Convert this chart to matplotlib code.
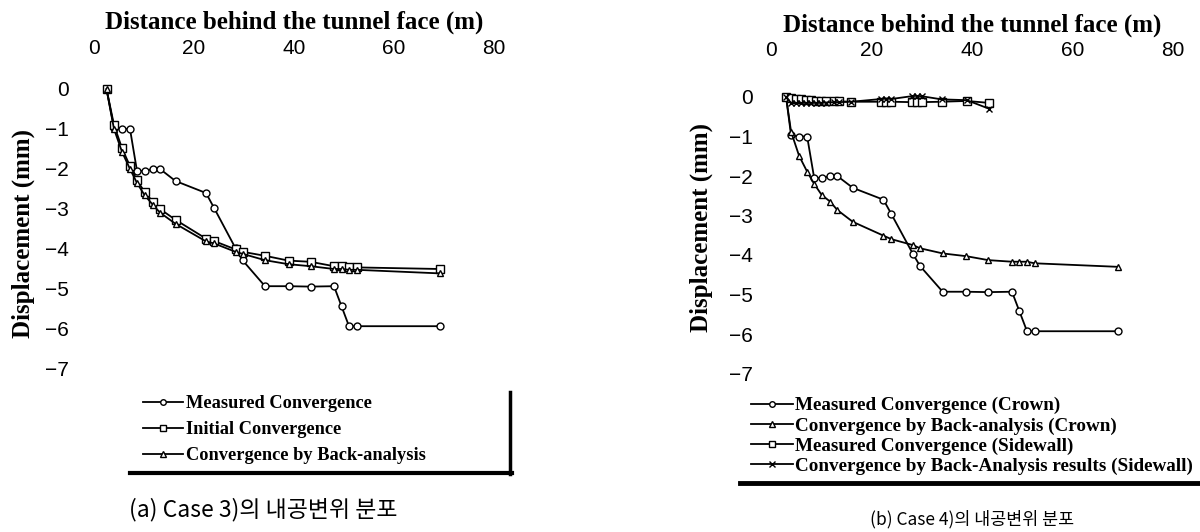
import matplotlib
matplotlib.use("Agg")
import matplotlib.pyplot as plt
from matplotlib.lines import Line2D

# ---------------- data ----------------
# Case 3 (left)
dist_case3 = [2.5, 4.0, 5.6, 7.2, 8.6, 10.1, 11.8, 13.2, 16.3, 22.4, 24.0,
              28.3, 29.7, 34.2, 38.9, 43.3, 48.0, 49.5, 51.0, 52.5, 69.2]
measured_case3 = [0, -0.97, -1.0, -1.0, -2.05, -2.05, -2.0, -2.0, -2.3, -2.6, -2.97,
                  -3.98, -4.28, -4.93, -4.93, -4.94, -4.93, -5.43, -5.93, -5.93, -5.93]
initial_case3 = [0, -0.9, -1.48, -1.93, -2.28, -2.57, -2.82, -3.0, -3.27, -3.74, -3.8,
                 -4.01, -4.07, -4.17, -4.29, -4.32, -4.43, -4.43, -4.46, -4.46, -4.5]
backanal_case3 = [0, -1.0, -1.57, -2.0, -2.35, -2.65, -2.9, -3.09, -3.37, -3.81, -3.86,
                  -4.07, -4.12, -4.28, -4.38, -4.43, -4.5, -4.5, -4.52, -4.52, -4.61]

# Case 4 (right)
dist_crown4 = [3.0, 4.0, 5.6, 7.2, 8.6, 10.1, 11.8, 13.2, 16.3, 22.4, 24.0,
               28.3, 29.7, 34.2, 38.9, 43.3, 48.0, 49.5, 51.0, 52.5, 69.2]
measured_crown4 = [0, -0.97, -1.0, -1.0, -2.05, -2.05, -2.0, -2.0, -2.3, -2.6, -2.97,
                   -3.98, -4.28, -4.93, -4.93, -4.94, -4.93, -5.43, -5.93, -5.93, -5.93]
backanal_crown4 = [0, -0.88, -1.49, -1.89, -2.2, -2.48, -2.65, -2.86, -3.16, -3.51, -3.6,
                   -3.75, -3.83, -3.96, -4.03, -4.13, -4.17, -4.17, -4.17, -4.21, -4.3]
dist_side4 = [3, 4, 5, 6, 7, 8, 9, 10, 11, 12.5, 13.5, 16, 22, 23, 24, 28, 29, 30, 34, 39, 43.5]
measured_side4 = [0, -0.03, -0.05, -0.06, -0.07, -0.08, -0.09, -0.1, -0.1, -0.11, -0.11,
                  -0.12, -0.12, -0.12, -0.12, -0.13, -0.13, -0.13, -0.12, -0.1, -0.15]
backanal_side4 = [0, -0.15, -0.15, -0.15, -0.15, -0.15, -0.15, -0.15, -0.14, -0.13, -0.13,
                  -0.12, -0.05, -0.04, -0.05, 0.02, 0.03, 0.02, -0.06, -0.08, -0.3]

x_ticks = [0, 20, 40, 60, 80]
y_ticks = [0, -1, -2, -3, -4, -5, -6, -7]

xlabel_text = "Distance behind the tunnel face (m)"
ylabel_text = "Displacement (mm)"
legend_case3 = ["Measured Convergence", "Initial Convergence", "Convergence by Back-analysis"]
legend_case4 = ["Measured Convergence (Crown)", "Convergence by Back-analysis (Crown)",
                "Measured Convergence (Sidewall)",
                "Convergence by Back-Analysis results (Sidewall)"]
caption_a = "(a) Case 3)의 내공변위 분포"
caption_b = "(b) Case 4)의 내공변위 분포"

# ---------------- styling ----------------
W, H = 1200, 532
SERIF = ["Liberation Serif", "DejaVu Serif"]
SANS = ["Liberation Sans", "DejaVu Sans"]
KOR = ["Noto Sans CJK KR", "DejaVu Sans"]

fig = plt.figure(figsize=(W / 100, H / 100), dpi=100)


def px_rect(x0, y0, x1, y1):
    return [x0 / W, 1 - y1 / H, (x1 - x0) / W, (y1 - y0) / H]


line_kw = dict(color="black", lw=1.3, mfc="white", mec="black", mew=1.0, clip_on=False)


def style_axes(ax, xpad, ypad):
    for s in ax.spines.values():
        s.set_visible(False)
    ax.set_xlim(0, 80)
    ax.set_ylim(-7, 0)
    ax.set_xticks(x_ticks)
    ax.set_yticks(y_ticks)
    ax.xaxis.tick_top()
    ax.tick_params(axis="both", length=0, labelsize=15)
    ax.tick_params(axis="x", pad=xpad)
    ax.tick_params(axis="y", pad=ypad)
    for lab in ax.get_xticklabels() + ax.get_yticklabels():
        lab.set_family(SANS)
    ax.set_facecolor("none")


# ---- left panel ----
axL = fig.add_axes(px_rect(94, 89, 494, 369))
style_axes(axL, 22, 18)
l1, = axL.plot(dist_case3, measured_case3, marker="o", ms=5, **line_kw)
l2, = axL.plot(dist_case3, initial_case3, marker="s", ms=5.5, **line_kw)
l3, = axL.plot(dist_case3, backanal_case3, marker="^", ms=5, **line_kw)
axL.xaxis.set_label_position("top")
axL.set_xlabel(xlabel_text, family=SERIF, fontweight="bold", fontsize=18)
axL.xaxis.set_label_coords(0.5, (369 - 22) / 280)
axL.xaxis.label.set_va("center")
axL.set_ylabel(ylabel_text, family=SERIF, fontweight="bold", fontsize=18)
axL.yaxis.set_label_coords((23 - 94) / 400, (369 - 234) / 280)
axL.yaxis.label.set_va("center")

legL = fig.legend([l1, l2, l3], legend_case3, loc="upper left",
                  bbox_to_anchor=(143 / W, 1 - 395 / H), bbox_transform=fig.transFigure,
                  frameon=False, borderpad=0, borderaxespad=0,
                  handlelength=2.2, handletextpad=0.12, labelspacing=0.5,
                  prop={"family": SERIF, "weight": "bold", "size": 13.2},
                  markerscale=0.8)
fig.add_artist(Line2D([130 / W, 512 / W], [1 - 473 / H, 1 - 473 / H],
                      transform=fig.transFigure, color="black", lw=3))
fig.add_artist(Line2D([510 / W, 510 / W], [1 - 392 / H, 1 - 474 / H],
                      transform=fig.transFigure, color="black", lw=2.5))
fig.text(263 / W, 1 - 510 / H, caption_a, family=KOR, fontsize=16.5,
         ha="center", va="center")

# ---- right panel ----
axR = fig.add_axes(px_rect(771, 97, 1172.6, 373.5))
style_axes(axR, 27, 13)
r1, = axR.plot(dist_crown4, measured_crown4, marker="o", ms=5, **line_kw)
r2, = axR.plot(dist_crown4, backanal_crown4, marker="^", ms=5, **line_kw)
r3, = axR.plot(dist_side4, measured_side4, marker="s", ms=5.5, **line_kw)
r4, = axR.plot(dist_side4, backanal_side4, marker="x", ms=5, **line_kw)
axR.xaxis.set_label_position("top")
axR.set_xlabel(xlabel_text, family=SERIF, fontweight="bold", fontsize=18)
axR.xaxis.set_label_coords(0.5, (373.5 - 25) / 276.5)
axR.xaxis.label.set_va("center")
axR.set_ylabel(ylabel_text, family=SERIF, fontweight="bold", fontsize=18)
axR.yaxis.set_label_coords((701 - 771) / 401.6, (373.5 - 228) / 276.5)
axR.yaxis.label.set_va("center")

legR = fig.legend([r1, r2, r3, r4], legend_case4, loc="upper left",
                  bbox_to_anchor=(751 / W, 1 - 397 / H), bbox_transform=fig.transFigure,
                  frameon=False, borderpad=0, borderaxespad=0,
                  handlelength=2.2, handletextpad=0.12, labelspacing=0.14,
                  prop={"family": SERIF, "weight": "bold", "size": 13.8},
                  markerscale=0.8)
fig.add_artist(Line2D([740 / W, 1200 / W], [1 - 483 / H, 1 - 483 / H],
                      transform=fig.transFigure, color="black", lw=3.5))
fig.text(972 / W, 1 - 519 / H, caption_b, family=KOR, fontsize=12.5,
         ha="center", va="center")

fig.savefig("out.png", dpi=100, facecolor="white")
